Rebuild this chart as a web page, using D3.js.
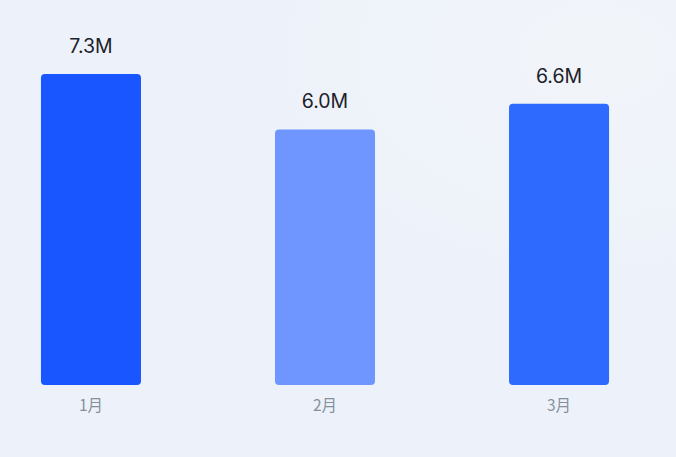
<!DOCTYPE html>
<html><head><meta charset="utf-8">
<script src="https://cdn.jsdelivr.net/npm/d3@7"></script>
<style>html,body{margin:0;padding:0;background:#edf2fa;}svg{display:block;}</style>
</head><body>
<script>
const categories = ["1月", "2月", "3月"];
const values = [7.3, 6.0, 6.6];
const valueLabels = ["7.3M", "6.0M", "6.6M"];
const barColors = ["#1a56ff", "#6f96ff", "#2f6aff"];

const W = 676, H = 457;
const svg = d3.select("body").append("svg").attr("width", W).attr("height", H);
const defs = svg.append("defs");
const rg = defs.append("radialGradient").attr("id", "bg").attr("cx", "0.88").attr("cy", "0.12").attr("r", "0.5");
rg.append("stop").attr("offset", "0").attr("stop-color", "#f1f4f9");
rg.append("stop").attr("offset", "1").attr("stop-color", "#edf2fa");
svg.append("rect").attr("width", W).attr("height", H).attr("fill", "#edf2fa");
svg.append("rect").attr("width", W).attr("height", H).attr("fill", "url(#bg)");

const x = d3.scaleBand().domain(categories).range([0, 650]).paddingInner(0.5726).paddingOuter(0.175);
const y = d3.scaleLinear().domain([0, 7.3]).range([385, 74]);

const data = categories.map((c, i) => ({c, v: values[i], l: valueLabels[i], col: barColors[i]}));

svg.selectAll("rect.bar").data(data).join("rect").attr("class", "bar")
  .attr("x", d => x(d.c)).attr("width", x.bandwidth())
  .attr("y", d => y(d.v)).attr("height", d => y(0) - y(d.v))
  .attr("rx", 4).attr("fill", d => d.col);

svg.selectAll("text.val").data(data).join("text").attr("class", "val")
  .attr("x", d => x(d.c) + x.bandwidth() / 2).attr("y", d => y(d.v) - 21)
  .attr("text-anchor", "middle").attr("font-family", "Inter, 'Noto Sans', sans-serif")
  .attr("font-size", 19.5).attr("font-weight", 400).attr("fill", "#1d2129").text(d => d.l);

const xAxis = d3.axisBottom(x).tickSize(0).tickPadding(0);
const g = svg.append("g").attr("transform", "translate(0,399)").call(xAxis);
g.select(".domain").remove();
g.selectAll("text").attr("font-family", "'Noto Sans CJK SC', Inter, sans-serif")
  .attr("font-size", 15.5).attr("fill", "#86909c").attr("dy", "0.8em");
</script>
</body></html>
